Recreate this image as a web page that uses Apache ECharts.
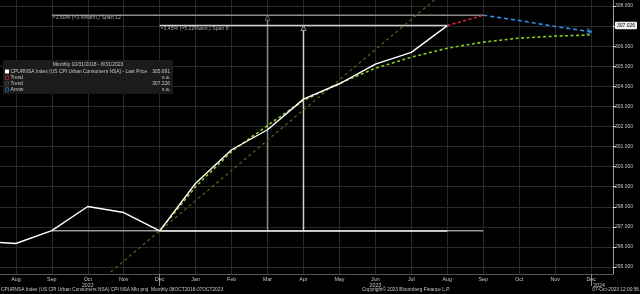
<!DOCTYPE html>
<html><head><meta charset="utf-8">
<script src="https://cdn.jsdelivr.net/npm/echarts@6/dist/echarts.min.js"></script>
<style>html,body{margin:0;padding:0;background:#000}#c{width:640px;height:294px}</style>
</head><body><div id="c"></div>
<script>
// month index: 0 = Jul 2022 ... 17 = Dec 2023
const monthNames = ['Jul','Aug','Sep','Oct','Nov','Dec','Jan','Feb','Mar','Apr','May','Jun','Jul','Aug','Sep','Oct','Nov','Dec'];
const monthTicks = [1,2,3,4,5,6,7,8,9,10,11,12,13,14,15,16,17];
const yearMarks = [5,17];
const yTicks = [295,296,297,298,299,300,301,302,303,304,305,306,307,308];
const yLabels = [295,296,297,298,299,300,301,302,303,304,305,306,307.026,308];

const cpiIdx = [0,1,2,3,4,5,6,7,8,9,10,11,12,13];
const cpiVal = [296.276,296.171,296.808,298.012,297.711,296.797,299.170,300.840,301.836,303.363,304.127,305.109,305.691,307.026];

const redIdx = [13,14];
const redVal = [307.026,307.54];
const blueIdx = [14,15,16,17];
const blueVal = [307.54,307.28,306.98,306.72];
const greenIdx = [5,6,7,8,9,10,11,12,13,14,15,16,17];
const greenVal = [296.797,299.0,300.75,302.05,303.3,304.15,304.9,305.45,305.9,306.2,306.4,306.5,306.56];
const oliveIdx = [3,13];
const oliveVal = [293.79,308.84];

// spans: [startIdx, endIdx, midIdx, baseValue, topValue]
const span12 = [2,14,8,296.808,307.54];
const span8 = [5,13,9,296.797,307.026];
const span12Text = '≈3.60% (≈3.6%ann.) Span 12';
const span8Text = '≈3.45% (≈5.22%ann.) Span 8';

const FONT = '"Liberation Sans", Arial, sans-serif';
const zip = (a,b) => a.map((x,i)=>[x,b[i]]);

function spanSeries(s, color, topColor, text) {
  return [
    {type:'line', data:[[s[0],s[3]],[s[1],s[3]]], symbol:'none', lineStyle:{color:color,width:1.5}, z:2, silent:true},
    {type:'line', data:[[s[0],s[4]],[s[1],s[4]]], symbol:'none', lineStyle:{color:topColor,width:1.5}, z:2, silent:true},
    {type:'line', data:[[s[2],s[3]],[s[2],s[4]]], symbol:'none', lineStyle:{color:topColor,width:1.5}, z:2, silent:true},
    {type:'scatter', data:[[s[2],s[4]]], symbol:'triangle', symbolSize:[5,5], symbolOffset:[0,2.5],
      itemStyle:{color:'#000',borderColor:topColor,borderWidth:0.8}, z:3, silent:true},
    {type:'scatter', data:[[s[0],s[4]]], symbolSize:1, itemStyle:{color:'transparent'}, z:3, silent:true,
      label:{show:true, formatter:text, position:'right', distance:0.5, offset:[0,2.6], color:'#d0d0d0', fontSize:5.2, fontFamily:FONT}}
  ];
}

const chart = echarts.init(document.getElementById('c'), null, {renderer:'canvas'});
const legendY = [65,71.5,77.5,83.3,89.3];
const txt = (t,x,y,align,size,extra) => Object.assign({type:'text', silent:true, style:{text:t, x:x, y:y, fill:'#c8c8c8', font:(size||5)+'px '+FONT, align:align||'left', verticalAlign:'middle'}}, extra||{});

chart.setOption({
  backgroundColor:'#000',
  animation:false,
  grid:{left:0, right:22, top:0, bottom:20, containLabel:false},
  xAxis:[{
    type:'value', min:0.5586, max:17.607,
    axisLine:{show:true, lineStyle:{color:'#555',width:1}},
    axisTick:{show:false, customValues:monthTicks},
    splitLine:{show:true, lineStyle:{color:'#282828',width:1}},
    axisLabel:{customValues:monthTicks, color:'#c8c8c8', fontSize:5.3, fontFamily:FONT, margin:2, lineHeight:6.5,
      formatter:function(v){
        const i = Math.round(v);
        const m = monthNames[i];
        if (i===3) return m+'\n2022';
        if (i===11) return m+'\n2023';
        if (i===17) return m+'\n{y|2024}';
        return m;
      },
      rich:{y:{fontSize:5.3, fontFamily:FONT, color:'#c8c8c8', padding:[0,0,0,16]}}
    }
  },{
    type:'value', min:0.5586, max:17.607, position:'bottom',
    axisLine:{show:false}, axisLabel:{show:false}, splitLine:{show:false},
    axisTick:{show:true, customValues:yearMarks, length:12, lineStyle:{color:'#888',width:1}}
  }],
  yAxis:{
    type:'value', position:'right', min:294.65, max:308.3,
    axisLine:{show:true, lineStyle:{color:'#999',width:1}},
    axisTick:{show:true, customValues:yTicks, length:3, lineStyle:{color:'#ddd'}},
    splitLine:{show:true, lineStyle:{color:'#282828',width:1}},
    axisLabel:{customValues:yLabels, color:'#c8c8c8', fontSize:5, fontFamily:FONT, margin:2,
      formatter:function(v){ return Math.abs(v-307.026)<1e-6 ? '{hl|307.026}' : v.toFixed(3); },
      rich:{hl:{backgroundColor:'#f2f2f2', color:'#000', fontSize:5, fontFamily:FONT, padding:[1.5,2,1,2], borderRadius:1}}
    }
  },
  series:[].concat(
    spanSeries(span12,'#9a9a9a','#8a8a8a',span12Text),
    spanSeries(span8,'#e6e6e6','#d0d0d0',span8Text),
    [
      {type:'line', data:zip(oliveIdx,oliveVal), symbol:'none', lineStyle:{color:'#5b5b18',width:1.3,type:[3,3]}, z:4, silent:true},
      {type:'line', data:zip(greenIdx,greenVal), symbol:'none', lineStyle:{color:'#86c81e',width:1.6,type:[3,2.5]}, z:5, silent:true},
      {type:'line', data:zip(cpiIdx,cpiVal), symbol:'none', lineStyle:{color:'#ffffff',width:1.4}, z:6, silent:true},
      {type:'line', data:zip(redIdx,redVal), symbol:'none', lineStyle:{color:'#e3233e',width:1.6,type:[3,2.5]}, z:6, silent:true},
      {type:'line', data:zip(blueIdx,blueVal), symbol:'none', lineStyle:{color:'#2f8ee8',width:1.6,type:[4,3]}, z:6, silent:true},
      {type:'scatter', data:[[blueIdx[blueIdx.length-1], blueVal[blueVal.length-1]]], symbol:'path://M0,0L10,5L0,10', symbolSize:[5,6],
        symbolOffset:[-2,0], symbolRotate:-8, symbolKeepAspect:false,
        itemStyle:{color:'transparent', borderColor:'#2f8ee8', borderWidth:1.2}, z:7, silent:true}
    ]
  ),
  graphic:[
    {type:'rect', silent:true, shape:{x:3,y:60,width:170,height:34}, style:{fill:'#1b1b1b'}, z:10},
    txt('Monthly 10/31/2018 - 8/31/2023', 88, legendY[0], 'center', 5, {z:11}),
    {type:'rect', silent:true, shape:{x:5,y:69.5,width:4,height:4}, style:{fill:'#ffffff'}, z:11},
    txt('CPURNSA Index (US CPI Urban Consumers NSA) - Last Price', 10.5, legendY[1], 'left', 4.9, {z:11}),
    txt('305.691', 170, legendY[1], 'right', 4.9, {z:11}),
    {type:'rect', silent:true, shape:{x:5.5,y:76,width:3,height:3.5}, style:{fill:'none', stroke:'#b0202e', lineWidth:0.8}, z:11},
    txt('Trend', 10.5, legendY[2], 'left', 4.9, {z:11}),
    txt('n.a.', 170, legendY[2], 'right', 4.9, {z:11}),
    {type:'rect', silent:true, shape:{x:5.5,y:81.8,width:3,height:3.5}, style:{fill:'none', stroke:'#4a4a28', lineWidth:0.8}, z:11},
    txt('Trend', 10.5, legendY[3], 'left', 4.9, {z:11}),
    txt('307.226', 170, legendY[3], 'right', 4.9, {z:11}),
    {type:'rect', silent:true, shape:{x:5.5,y:87.8,width:3,height:3.5}, style:{fill:'none', stroke:'#2f6fb8', lineWidth:0.8}, z:11},
    txt('Arrow', 10.5, legendY[4], 'left', 4.9, {z:11}),
    txt('n.a.', 170, legendY[4], 'right', 4.9, {z:11}),
    txt('CPURNSA Index (US CPI Urban Consumers NSA) CPI NSA Mkt proj  Monthly 08OCT2018-07OCT2023', 1, 290, 'left', 4.8, {z:11}),
    txt('Copyright\u00a9 2023 Bloomberg Finance L.P.', 406, 290, 'center', 4.8, {z:11}),
    txt('07-Oct-2023 12:00:56', 639, 290, 'right', 4.8, {z:11})
  ]
});
</script></body></html>
